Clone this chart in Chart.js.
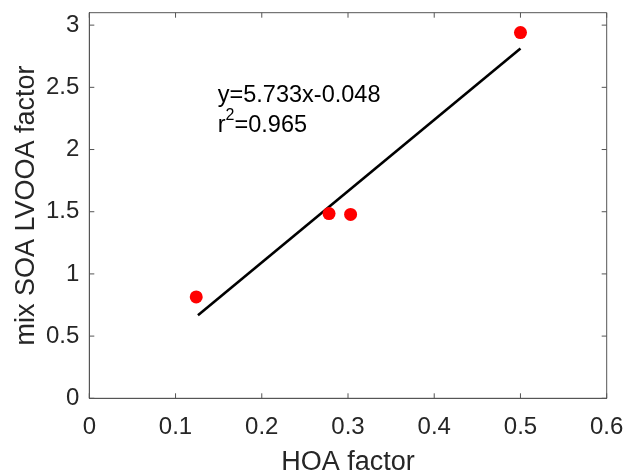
<!DOCTYPE html>
<html>
<head>
<meta charset="utf-8">
<script src="https://cdn.jsdelivr.net/npm/chart.js@4/dist/chart.umd.min.js"></script>
<style>
  html, body { margin: 0; padding: 0; background: #ffffff; }
  #wrap { width: 628px; height: 473px; }
</style>
</head>
<body>
<div id="wrap"><canvas id="c" width="628" height="473"></canvas></div>
<script>
// ---- data ----
const hoaFactor   = [0.124, 0.278, 0.303, 0.500];
const lvooaFactor = [0.815, 1.485, 1.478, 2.940];
const fitX = [0.126, 0.500];
const fitY = [0.668, 2.812];
const xTickValues = [0, 0.1, 0.2, 0.3, 0.4, 0.5, 0.6];
const xTickLabels = ['0', '0.1', '0.2', '0.3', '0.4', '0.5', '0.6'];
const yTickValues = [0, 0.5, 1, 1.5, 2, 2.5, 3];
const yTickLabels = ['0', '0.5', '1', '1.5', '2', '2.5', '3'];
const xTitle = 'HOA factor';
const yTitle = 'mix SOA LVOOA factor';
const fitEquation = 'y=5.733x-0.048';
const fitR2Prefix = 'r';
const fitR2Sup = '2';
const fitR2Value = '=0.965';
const annotAnchor = [0.149, 2.379, 2.139]; // x, baseline y of line 1, line 2 (data units)

const FONT = '"Liberation Sans", Arial, Helvetica, sans-serif';
const AXIS_COLOR = '#555555';
const TEXT_COLOR = '#262626';

const boxAndTicks = {
  id: 'boxAndTicks',
  afterDatasetsDraw(chart) {
    const {ctx, chartArea: a, scales: {x, y}} = chart;
    ctx.save();
    ctx.strokeStyle = AXIS_COLOR;
    ctx.lineWidth = 1;
    ctx.beginPath();
    ctx.rect(a.left, a.top, a.right - a.left, a.bottom - a.top);
    ctx.stroke();
    const L = 5;
    ctx.beginPath();
    x.ticks.forEach(t => {
      const px = x.getPixelForValue(t.value);
      ctx.moveTo(px, a.bottom); ctx.lineTo(px, a.bottom - L);
      ctx.moveTo(px, a.top); ctx.lineTo(px, a.top + L);
    });
    y.ticks.forEach(t => {
      const py = y.getPixelForValue(t.value);
      ctx.moveTo(a.left, py); ctx.lineTo(a.left + L, py);
      ctx.moveTo(a.right, py); ctx.lineTo(a.right - L, py);
    });
    ctx.stroke();

    // regression annotation
    ctx.fillStyle = '#000000';
    ctx.textBaseline = 'alphabetic';
    ctx.textAlign = 'left';
    const ax = x.getPixelForValue(annotAnchor[0]);
    const ay1 = y.getPixelForValue(annotAnchor[1]);
    const ay2 = y.getPixelForValue(annotAnchor[2]);
    ctx.font = '23.5px ' + FONT;
    ctx.fillText(fitEquation, ax, ay1);
    ctx.fillText(fitR2Prefix, ax, ay2);
    let w = ctx.measureText(fitR2Prefix).width;
    ctx.font = '16px ' + FONT;
    ctx.fillText(fitR2Sup, ax + w, ay2 - 12);
    w += ctx.measureText(fitR2Sup).width;
    ctx.font = '23.5px ' + FONT;
    ctx.fillText(fitR2Value, ax + w, ay2);
    ctx.restore();
  }
};

new Chart(document.getElementById('c'), {
  type: 'scatter',
  data: {
    datasets: [
      {
        type: 'line',
        data: fitX.map((v, i) => ({x: v, y: fitY[i]})),
        borderColor: '#000000',
        borderWidth: 2.6,
        pointRadius: 0,
        fill: false,
        order: 2
      },
      {
        data: hoaFactor.map((v, i) => ({x: v, y: lvooaFactor[i]})),
        backgroundColor: '#ff0000',
        borderWidth: 0,
        pointRadius: 6.5,
        order: 1
      }
    ]
  },
  plugins: [boxAndTicks],
  options: {
    responsive: false,
    animation: false,
    events: [],
    layout: { padding: { top: 12.7, right: 21.3, left: 0, bottom: 0 } },
    plugins: { legend: { display: false }, tooltip: { enabled: false } },
    scales: {
      x: {
        type: 'linear',
        min: 0, max: 0.6,
        afterBuildTicks: s => { s.ticks = xTickValues.map(v => ({value: v})); },
        afterFit: s => { s.height = 74.7; s.paddingLeft = 0; s.paddingRight = 0; },
        grid: { display: false, drawTicks: false },
        border: { display: true, color: AXIS_COLOR, width: 1 },
        ticks: {
          color: TEXT_COLOR,
          font: { family: FONT, size: 24 },
          padding: 15,
          maxRotation: 0,
          callback: (v, i) => xTickLabels[i]
        },
        title: {
          display: true, text: xTitle, color: TEXT_COLOR,
          font: { family: FONT, size: 27, lineHeight: 0.8 },
          padding: 0
        }
      },
      y: {
        type: 'linear',
        min: 0, max: 3.1,
        afterBuildTicks: s => { s.ticks = yTickValues.map(v => ({value: v})); },
        afterFit: s => { s.width = 89.3; s.paddingTop = 0; s.paddingBottom = 0; },
        grid: { display: false, drawTicks: false },
        border: { display: true, color: AXIS_COLOR, width: 1 },
        ticks: {
          color: TEXT_COLOR,
          font: { family: FONT, size: 24 },
          padding: 10,
          callback: (v, i) => yTickLabels[i]
        },
        title: {
          display: true, text: yTitle, color: TEXT_COLOR,
          font: { family: FONT, size: 27, lineHeight: 1 },
          padding: { top: 13, bottom: 0 }
        }
      }
    }
  }
});
</script>
</body>
</html>
